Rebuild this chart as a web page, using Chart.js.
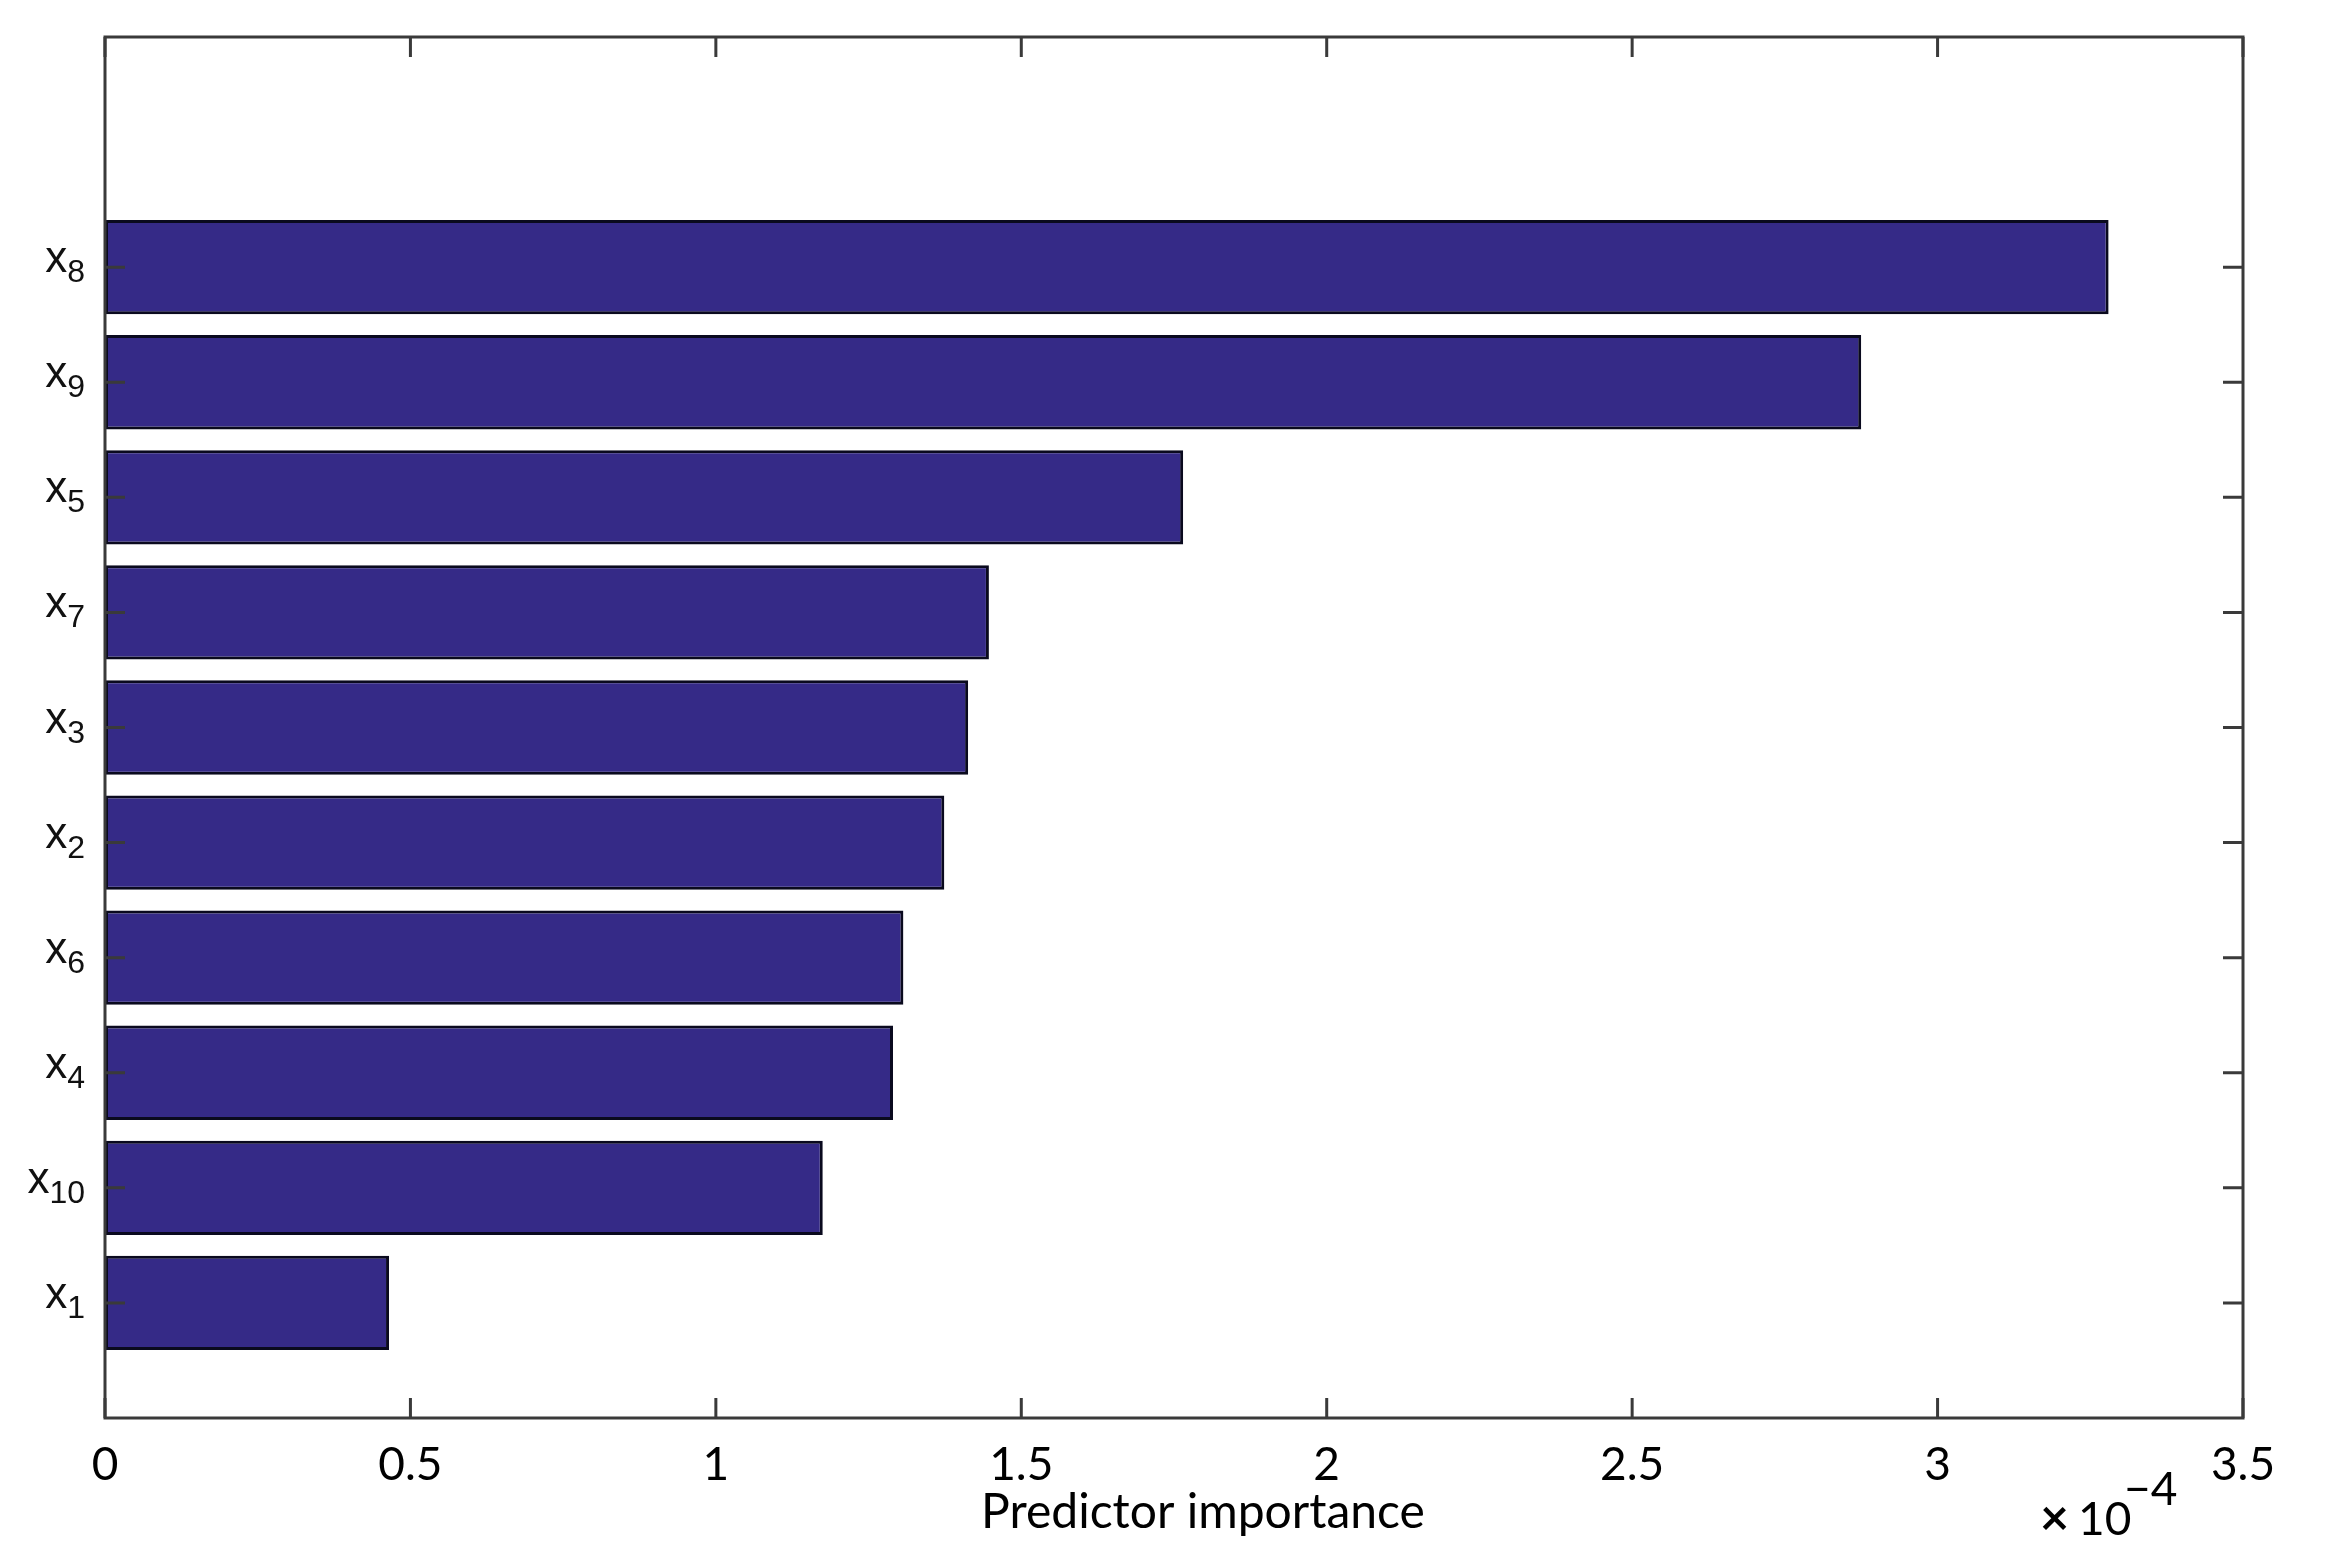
<!DOCTYPE html>
<html><head><meta charset="utf-8">
<script src="https://cdn.jsdelivr.net/npm/chart.js@4.4.1/dist/chart.umd.min.js"></script>
<style>html,body{margin:0;padding:0;background:#fff;overflow:hidden}canvas{display:block}</style>
</head><body>
<canvas id="c" width="2328" height="1564"></canvas>
<script>
// ---- data ----
const predictorPrefix = 'x';
const predictorIndex = ['8', '9', '5', '7', '3', '2', '6', '4', '10', '1'];
const importance = [3.28, 2.875, 1.765, 1.447, 1.413, 1.374, 1.307, 1.29, 1.175, 0.465];
const barPositions = [10, 9, 8, 7, 6, 5, 4, 3, 2, 1];
const xTickLabels = ['0', '0.5', '1', '1.5', '2', '2.5', '3', '3.5'];
const xAxisTitle = 'Predictor importance';
const exponentTimes = '\u00D7';
const exponentBase = '10';
const exponentPower = '\u22124';

const points = importance.map((v, i) => ({ x: v, y: barPositions[i] }));

const frame = {
  id: 'frame',
  afterDatasetsDraw(chart) {
    const { ctx, chartArea: a, scales } = chart;
    const xs = scales.x, ys = scales.y;
    ctx.save();
    ctx.strokeStyle = '#3a3a3a';
    ctx.lineWidth = 3;
    ctx.strokeRect(a.left, a.top, a.right - a.left, a.bottom - a.top);
    const tl = 20;
    ctx.beginPath();
    xs.ticks.forEach(t => {
      const px = xs.getPixelForValue(t.value);
      ctx.moveTo(px, a.bottom); ctx.lineTo(px, a.bottom - tl);
      ctx.moveTo(px, a.top); ctx.lineTo(px, a.top + tl);
    });
    barPositions.forEach(p => {
      const py = ys.getPixelForValue(p);
      ctx.moveTo(a.left, py); ctx.lineTo(a.left + tl, py);
      ctx.moveTo(a.right, py); ctx.lineTo(a.right - tl, py);
    });
    ctx.stroke();

    // y category labels with subscripts
    ctx.fillStyle = '#111';
    ctx.textBaseline = 'alphabetic';
    const mainFont = '44px "Liberation Sans", Arial, sans-serif';
    const subFont = '32px "Liberation Sans", Arial, sans-serif';
    const rightEdge = a.left - 20;
    barPositions.forEach((p, i) => {
      const py = ys.getPixelForValue(p);
      ctx.font = subFont;
      const sw = ctx.measureText(predictorIndex[i]).width;
      ctx.font = mainFont;
      const mw = ctx.measureText(predictorPrefix).width;
      const x0 = rightEdge - sw - mw;
      ctx.textAlign = 'left';
      ctx.fillText(predictorPrefix, x0, py + 5);
      ctx.font = subFont;
      ctx.fillText(predictorIndex[i], x0 + mw, py + 15);
    });

    // x axis title
    ctx.fillStyle = '#000';
    ctx.font = '48px Lato, "Open Sans", sans-serif';
    ctx.textAlign = 'center';
    ctx.fillText(xAxisTitle, (a.left + a.right) / 2 + 29, 1528);

    // exponent label
    ctx.textAlign = 'left';
    ctx.font = 'bold 50px Lato, sans-serif';
    ctx.fillText(exponentTimes, 2040, 1535);
    ctx.font = '46px Lato, sans-serif';
    ctx.fillText(exponentBase, 2078, 1535);
    ctx.fillText(exponentPower, 2124, 1505);
    ctx.restore();
  }
};

new Chart(document.getElementById('c'), {
  type: 'bar',
  data: {
    datasets: [{
      data: points,
      backgroundColor: '#352a87',
      borderColor: '#0a0a1e',
      borderWidth: 3,
      borderSkipped: false,
      barPercentage: 0.82,
      categoryPercentage: 1.0
    }]
  },
  options: {
    indexAxis: 'y',
    responsive: false,
    devicePixelRatio: 1,
    animation: false,
    layout: { padding: { top: 37, right: 85, left: 0, bottom: 0 } },
    plugins: { legend: { display: false }, tooltip: { enabled: false } },
    scales: {
      x: {
        type: 'linear',
        position: 'bottom',
        min: 0, max: 3.5,
        grid: { display: false, drawTicks: false },
        border: { display: false },
        ticks: {
          stepSize: 0.5,
          padding: 20,
          color: '#000',
          font: { family: 'Lato, "Open Sans", sans-serif', size: 46 },
          callback: (v, i) => xTickLabels[i]
        },
        afterFit: s => { s.height = 146; }
      },
      y: {
        type: 'linear',
        offset: false,
        min: 0, max: 12,
        grid: { display: false, drawTicks: false },
        border: { display: false },
        ticks: { display: false },
        afterFit: s => { s.width = 105; }
      }
    }
  },
  plugins: [frame]
});
</script>
</body></html>
